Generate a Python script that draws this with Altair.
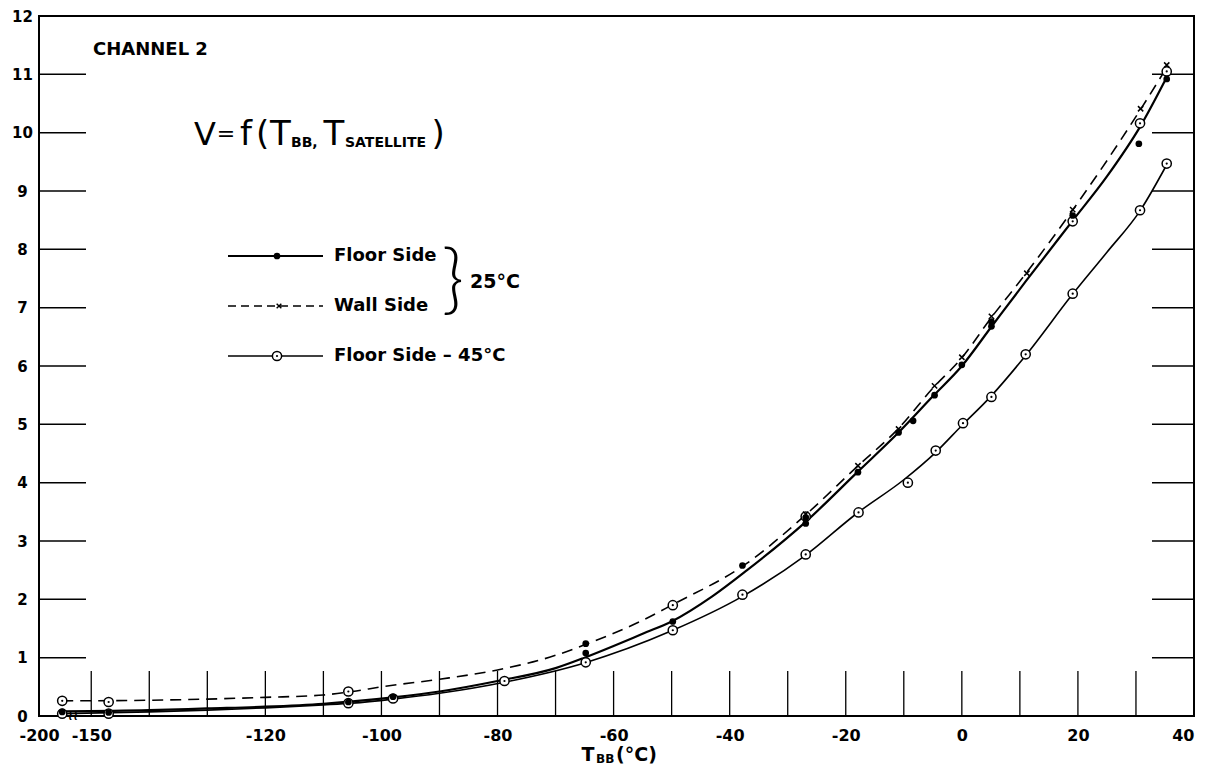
import altair as alt
import pandas as pd

# ---------------- axis values ----------------
x_label_values = [-159, -150, -120, -100, -80, -60, -40, -20, 0, 20, 40]
y_label_values = list(range(0, 13))
x_inner_ticks = [-150, -140, -130, -120, -110, -100, -90, -80, -70, -60, -50,
                 -40, -30, -20, -10, 0, 10, 20, 30]
y_inner_ticks = [1, 2, 3, 4, 5, 6, 7, 8, 9, 10, 11]

# ---------------- fitted curves ----------------
wall_curve_t = [-155, -140, -130, -120, -110, -105, -100, -90, -80, -70, -65, -55,
                -50, -37, -27, -18, -11, -5, 0, 5, 11, 19, 30.8, 35.5]
wall_curve_v = [0.26, 0.27, 0.29, 0.32, 0.36, 0.42, 0.50, 0.63, 0.79, 1.04, 1.22, 1.64,
                1.90, 2.62, 3.44, 4.28, 4.92, 5.62, 6.14, 6.82, 7.58, 8.66, 10.40, 11.15]

floor25_curve_t = [-155, -140, -130, -120, -110, -105, -98, -90, -80, -70, -65, -60, -55,
                   -50, -43, -37, -27, -18, -11, -5, 0, 5, 11, 19, 25, 30.7, 35.3]
floor25_curve_v = [0.08, 0.10, 0.13, 0.16, 0.21, 0.25, 0.32, 0.42, 0.60, 0.82, 1.00, 1.20, 1.41,
                   1.62, 2.05, 2.50, 3.32, 4.18, 4.85, 5.48, 6.00, 6.66, 7.45, 8.48, 9.25, 10.10, 10.95]

floor45_curve_t = [-155, -140, -130, -120, -110, -105, -98, -90, -78.8, -65, -50, -37.8,
                   -27, -18, -10, -4.5, 0, 5, 11, 19, 25, 30.7, 35.3]
floor45_curve_v = [0.04, 0.07, 0.10, 0.14, 0.19, 0.22, 0.29, 0.39, 0.58, 0.91, 1.46, 2.05,
                   2.75, 3.48, 4.05, 4.52, 4.98, 5.48, 6.18, 7.22, 7.95, 8.66, 9.45]

# ---------------- measured points ----------------
floor25_t = [-155, -147, -105.7, -98, -64.8, -64.8, -49.8, -37.8, -26.9, -26.9, -17.9,
             -10.9, -8.4, -4.7, 0, 5.1, 5.1, 19.1, 30.5, 35.3]
floor25_v = [0.07, 0.06, 0.24, 0.33, 1.24, 1.08, 1.62, 2.58, 3.30, 3.40, 4.18,
             4.86, 5.06, 5.50, 6.02, 6.68, 6.76, 8.58, 9.81, 10.92]

wall_t = [-26.9, -17.9, -10.9, -4.7, 0, 5.1, 11.2, 19.1, 30.8, 35.3]
wall_v = [3.46, 4.29, 4.92, 5.66, 6.15, 6.85, 7.59, 8.68, 10.41, 11.16]

floor45_t = [-155, -147, -105.7, -98, -78.8, -64.8, -49.8, -37.8, -26.9, -17.8, -9.3,
             -4.5, 0.2, 5.1, 11, 19.1, 30.7, 35.3]
floor45_v = [0.04, 0.04, 0.22, 0.30, 0.60, 0.92, 1.47, 2.08, 2.77, 3.49, 4.00,
             4.55, 5.02, 5.47, 6.20, 7.24, 8.67, 9.47]

extra_circle_t = [-155, -147, -105.7, -49.8, -26.9, 19.1, 30.7, 35.3]
extra_circle_v = [0.26, 0.24, 0.42, 1.90, 3.42, 8.48, 10.16, 11.05]

FONT = "DejaVu Sans"
W, H = 1155, 700


def frame(t, v):
    return pd.DataFrame({"t": t, "v": v})


X = alt.X(
    "t:Q",
    scale=alt.Scale(domain=[-159, 40], nice=False, zero=False),
    axis=alt.Axis(
        values=x_label_values,
        labelExpr="datum.value < -155 ? '-200' : (datum.value < 0 ? '-' + abs(datum.value) : '' + datum.value)",
        title=None, grid=False, ticks=False, domain=False,
        labelFont=FONT, labelFontSize=16, labelFontWeight="bold", labelColor="black",
        labelAlign={"condition": {"test": "datum.value > 35", "value": "right"}, "value": "center"},
        labelBaseline="middle", labelPadding=19, labelOverlap=False, labelBound=False,
        labelFlush=False,
    ),
)
Y = alt.Y(
    "v:Q",
    scale=alt.Scale(domain=[0, 12], nice=False, zero=True),
    axis=alt.Axis(
        values=y_label_values, title=None, grid=False, ticks=False, domain=False,
        labelFont=FONT, labelFontSize=15, labelFontWeight="bold", labelColor="black",
        labelAlign="center", labelBaseline="middle", labelPadding=17,
        labelOverlap=False, labelBound=False, labelFlush=False, format="d",
    ),
)

# ---------------- inner ticks ----------------
left_ticks = alt.Chart(pd.DataFrame({"v": y_inner_ticks})).mark_rule(
    color="black", strokeWidth=1.5).encode(x=alt.value(0), x2=alt.value(47), y=Y)
right_ticks = alt.Chart(pd.DataFrame({"v": y_inner_ticks})).mark_rule(
    color="black", strokeWidth=1.5).encode(x=alt.value(W - 42), x2=alt.value(W), y=Y)
bottom_ticks = alt.Chart(pd.DataFrame({"t": x_inner_ticks})).mark_rule(
    color="black", strokeWidth=1.3).encode(x=X, y=alt.value(H), y2=alt.value(H - 45))

# ---------------- curves ----------------
wall_line = alt.Chart(frame(wall_curve_t, wall_curve_v)).mark_line(
    color="black", strokeWidth=1.6, strokeDash=[11, 7], interpolate="monotone").encode(x=X, y=Y)
floor25_line = alt.Chart(frame(floor25_curve_t, floor25_curve_v)).mark_line(
    color="black", strokeWidth=2.2, interpolate="monotone").encode(x=X, y=Y)
floor45_line = alt.Chart(frame(floor45_curve_t, floor45_curve_v)).mark_line(
    color="black", strokeWidth=1.6, interpolate="monotone").encode(x=X, y=Y)

# ---------------- points ----------------
circ_df = frame(floor45_t + extra_circle_t, floor45_v + extra_circle_v)
circles = alt.Chart(circ_df).mark_point(
    shape="circle", filled=True, fill="white", stroke="black", strokeWidth=1.5,
    size=85, opacity=1).encode(x=X, y=Y)
circle_centers = alt.Chart(circ_df).mark_point(
    shape="circle", filled=True, color="black", size=5, opacity=1).encode(x=X, y=Y)
dots = alt.Chart(frame(floor25_t, floor25_v)).mark_point(
    shape="circle", filled=True, color="black", size=45, opacity=1).encode(x=X, y=Y)
crosses = alt.Chart(frame(wall_t, wall_v)).mark_point(
    shape="M-1,-1L1,1M-1,1L1,-1", filled=False, color="black", strokeWidth=1.5,
    size=28, opacity=1).encode(x=X, y=Y)

# ---------------- annotations ----------------
one = alt.Data(values=[{"a": 1}])


def txt(s, x, y, size, align="left", baseline="middle", font=FONT, weight="normal"):
    return alt.Chart(one).mark_text(
        text=s, align=align, baseline=baseline, font=font, fontSize=size,
        fontWeight=weight, color="black").encode(x=alt.value(x), y=alt.value(y))


def hline(x1, x2, y, width=2.0, dash=None):
    kw = dict(color="black", strokeWidth=width)
    if dash:
        kw["strokeDash"] = dash
    return alt.Chart(one).mark_rule(**kw).encode(
        x=alt.value(x1), x2=alt.value(x2), y=alt.value(y))


annotations = [
    txt("CHANNEL 2", 54, 34, 18, weight="bold"),
    # V = f(T_BB, T_SATELLITE)
    txt("V", 166, 129, 32, align="center", baseline="alphabetic"),
    txt("=", 187, 125, 22, align="center", baseline="alphabetic"),
    txt("f", 207, 129, 34, align="center", baseline="alphabetic"),
    txt("(", 223.5, 129, 34, align="center", baseline="alphabetic"),
    txt("T", 241.5, 129, 34, align="center", baseline="alphabetic"),
    txt("BB,", 252, 131, 14, baseline="alphabetic", weight="bold"),
    txt("T", 295, 129, 34, align="center", baseline="alphabetic"),
    txt("SATELLITE", 306, 131, 14, baseline="alphabetic", weight="bold"),
    txt(")", 399, 129, 34, align="center", baseline="alphabetic"),
    # legend
    hline(189, 284, 240, 2.0),
    hline(189, 284, 290, 1.6, [8, 5]),
    hline(189, 284, 340, 1.6),
    alt.Chart(one).mark_point(shape="circle", filled=True, color="black", size=45,
                              opacity=1).encode(x=alt.value(238), y=alt.value(240)),
    alt.Chart(one).mark_point(shape="M-1,-1L1,1M-1,1L1,-1", filled=False, color="black",
                              strokeWidth=1.4, size=22, opacity=1).encode(
        x=alt.value(240), y=alt.value(290)),
    alt.Chart(one).mark_point(shape="circle", filled=True, fill="white", stroke="black",
                              strokeWidth=1.5, size=85, opacity=1).encode(
        x=alt.value(238), y=alt.value(340)),
    alt.Chart(one).mark_point(shape="circle", filled=True, color="black", size=5,
                              opacity=1).encode(x=alt.value(238), y=alt.value(340)),
    txt("Floor Side", 295, 240, 18, weight="bold"),
    txt("Wall Side", 295, 290, 18, weight="bold"),
    txt("Floor Side \u2013 45\u00b0C", 295, 340, 18, weight="bold"),
    txt("}", 414, 266, 76, align="center", font="Lato", weight=300),
    txt("25\u00b0C", 431, 266, 19, weight="bold"),
    # axis break squiggle
    txt("\u2240\u2240", 34, 700, 14, align="center", weight="bold"),
    # x axis title T_BB(°C)
    txt("T", 549, 745, 19, align="center", baseline="alphabetic", weight="bold"),
    txt("BB", 557, 747, 12, baseline="alphabetic", weight="bold"),
    txt("(\u00b0C)", 577, 745, 19, baseline="alphabetic", weight="bold"),
]

chart = alt.layer(
    left_ticks, right_ticks, bottom_ticks,
    wall_line, floor45_line, floor25_line,
    circles, circle_centers, dots, crosses,
    *annotations,
).properties(
    width=W, height=H,
    padding={"left": 31, "top": 8, "right": 7, "bottom": 51},
    autosize=alt.AutoSizeParams(type="none"),
    background="white",
).configure_view(
    stroke="black", strokeWidth=2,
)

chart.save("out.html", embed_options={"renderer": "svg", "actions": False})
